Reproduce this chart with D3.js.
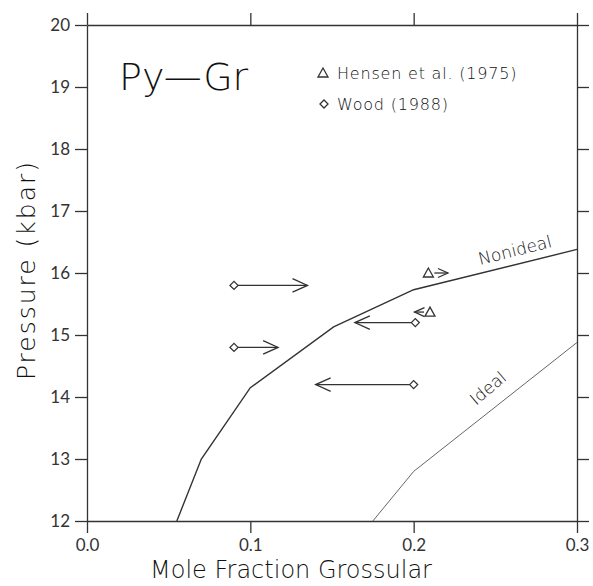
<!DOCTYPE html>
<meta charset="utf-8">
<style>
body { margin: 0; background: #fff; }
svg { font-family: "DejaVu Sans", Lato, sans-serif; }
.axis path, .axis line { stroke: #333; stroke-width: 1.3; }
.axis text { fill: #333; font-size: 16px; font-family: Lato, sans-serif; }
.lbl { fill: #111; font-weight: 200; }
</style>
<svg width="593" height="586"></svg>
<script src="https://d3js.org/d3.v7.min.js"></script>
<script>

// data
var nonideal = [[0.055, 12], [0.07, 13], [0.1, 14.15], [0.151, 15.13], [0.2, 15.73], [0.3, 16.38]];
var ideal = [[0.175, 12], [0.2, 12.8], [0.3, 14.88]];
// wood (1988): start x, P, arrow end x
var wood = [[0.09, 15.8, 0.135], [0.09, 14.8, 0.117], [0.201, 15.2, 0.164], [0.2, 14.2, 0.14]];
// hensen et al. (1975)
var hensen = [[0.209, 16.0, 0.221], [0.210, 15.37, 0.2005]];
var xTicks = [0, 0.1, 0.2, 0.3];
var yTicks = [12, 13, 14, 15, 16, 17, 18, 19, 20];

var svg = d3.select("svg");

var x = d3.scaleLinear().domain([0, 0.3]).range([87, 577]),
    y = d3.scaleLinear().domain([12, 20]).range([521, 25]);

svg.append("g").attr("class", "axis")
    .attr("transform", "translate(87,0)")
    .call(d3.axisLeft(y).tickValues(yTicks).tickSize(12).tickSizeOuter(0).tickPadding(5).tickFormat(d3.format("d")));
svg.append("g").attr("class", "axis")
    .attr("transform", "translate(577,0)")
    .call(d3.axisRight(y).tickValues(yTicks).tickSize(12).tickSizeOuter(0).tickFormat(""));
svg.append("g").attr("class", "axis")
    .attr("transform", "translate(0,521)")
    .call(d3.axisBottom(x).tickValues(xTicks).tickSize(12).tickSizeOuter(0).tickPadding(6).tickFormat(d3.format(".1f")));
svg.append("g").attr("class", "axis")
    .attr("transform", "translate(0,25)")
    .call(d3.axisTop(x).tickValues(xTicks).tickSize(12).tickSizeOuter(0).tickFormat(""));

svg.selectAll(".axis .domain").attr("fill", "none");
svg.selectAll(".axis text").style("font-size", "17px");

// axis titles
svg.append("text").attr("class", "lbl")
    .attr("x", 291).attr("y", 578)
    .attr("text-anchor", "middle")
    .style("font-size", "24px")
    .text("Mole Fraction Grossular");

svg.append("text").attr("class", "lbl")
    .attr("transform", "translate(35,270) rotate(-90)")
    .attr("text-anchor", "middle")
    .style("font-size", "25px")
    .style("letter-spacing", "2px")
    .text("Pressure  (kbar)");

svg.append("text").attr("class", "lbl")
    .attr("x", 119).attr("y", 90)
    .style("font-size", "38px")
    .text("Py\u2014Gr");

// curves
var line = d3.line().x(function(d) { return x(d[0]); }).y(function(d) { return y(d[1]); });

svg.append("path")
    .datum(nonideal)
    .attr("d", line)
    .attr("fill", "none")
    .attr("stroke", "#333")
    .attr("stroke-width", 1.4);

svg.append("path")
    .datum(ideal)
    .attr("d", line)
    .attr("fill", "none")
    .attr("stroke", "#666")
    .attr("stroke-width", 1);

svg.append("text").attr("class", "lbl")
    .attr("transform", "translate(480,265) rotate(-14)")
    .style("font-size", "17px")
    .text("Nonideal");

svg.append("text").attr("class", "lbl")
    .attr("transform", "translate(476,406) rotate(-40)")
    .style("font-size", "17px")
    .text("Ideal");

// markers
function diamond(g, cx, cy, r) {
  g.append("path")
      .attr("d", "M" + (cx - r) + "," + cy + "L" + cx + "," + (cy - r) + "L" + (cx + r) + "," + cy + "L" + cx + "," + (cy + r) + "Z")
      .attr("fill", "#fff").attr("stroke", "#333").attr("stroke-width", 1.3);
}
function triangle(g, cx, cy, r) {
  g.append("path")
      .attr("d", "M" + (cx - r) + "," + (cy + r * 0.8) + "L" + cx + "," + (cy - r) + "L" + (cx + r) + "," + (cy + r * 0.8) + "Z")
      .attr("fill", "none").attr("stroke", "#333").attr("stroke-width", 1.3);
}
function arrow(g, x0, x1, yy, head) {
  var dir = x1 > x0 ? 1 : -1;
  g.append("line")
      .attr("x1", x0).attr("x2", x1).attr("y1", yy).attr("y2", yy)
      .attr("stroke", "#333").attr("stroke-width", 1.3);
  g.append("path")
      .attr("d", "M" + (x1 - dir * head) + "," + (yy - head * 0.45) + "L" + x1 + "," + yy + "L" + (x1 - dir * head) + "," + (yy + head * 0.45))
      .attr("fill", "none").attr("stroke", "#333").attr("stroke-width", 1.3);
}

var marks = svg.append("g");

wood.forEach(function(d) {
  var x0 = x(d[0]), x1 = x(d[2]), yy = y(d[1]);
  arrow(marks, x0 + (d[2] > d[0] ? 4 : -4), x1, yy, 15);
  diamond(marks, x0, yy, 4);
});

hensen.forEach(function(d) {
  var x0 = x(d[0]), x1 = x(d[2]), yy = y(d[1]);
  arrow(marks, x0 + (d[2] > d[0] ? 6 : -6), x1, yy, 10);
  triangle(marks, x0, yy, 5);
});

// legend
var legend = svg.append("g");
triangle(legend, 323, 73, 5);
diamond(legend, 324, 104, 4);
legend.append("text").attr("class", "lbl").attr("x", 337).attr("y", 79)
    .style("font-size", "16px").style("letter-spacing", "0.8px").text("Hensen et al. (1975)");
legend.append("text").attr("class", "lbl").attr("x", 337).attr("y", 110)
    .style("font-size", "16px").style("letter-spacing", "0.8px").text("Wood (1988)");

</script>
